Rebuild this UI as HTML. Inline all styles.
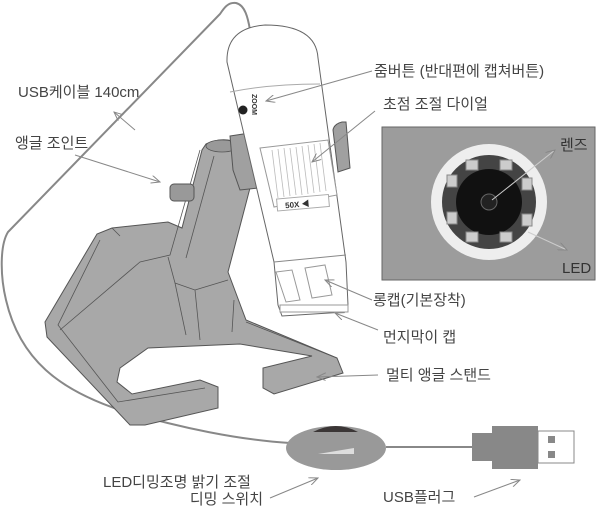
<!DOCTYPE html>
<html><head><meta charset="utf-8"><style>
html,body{margin:0;padding:0;background:#fff;}
svg{display:block}
text{font-family:"Liberation Sans","Noto Sans CJK KR",sans-serif;font-size:15px;fill:#444;}
</style></head><body>
<svg width="602" height="506" viewBox="0 0 602 506" xmlns="http://www.w3.org/2000/svg">
<defs>
<marker id="a" markerWidth="10" markerHeight="8" refX="9" refY="4" orient="auto" markerUnits="userSpaceOnUse">
<path d="M0,0 L9,4 L0,8" fill="none" stroke="#888" stroke-width="1"/></marker>
</defs>
<!-- cable -->
<path d="M250,30 C248,18 245,5 236,3 C228,2 224,8 220,14 L8,232 C0,245 0,275 6,300 C20,360 60,390 120,410 C180,428 240,440 290,443" fill="none" stroke="#888" stroke-width="2"/>
<!-- stand -->
<path d="M202,150 L182,228 L168,222 L112,228 L97,234 L45,322 L47,337 L130,425 L145,425 L218,408 L218,387 L200,380 L132,394 L117,382 L120,368 L148,348 L240,344 L312,356 L263,368 L263,388 L274,394 L343,373 L337,358 L246,320 L228,272 L250,188 L240,143 Q222,136 206,144 Z" fill="#a8a8a8" stroke="#555" stroke-width="1"/>
<path d="M100,240 L58,325 L118,402 L205,388 M112,228 L120,236 M168,257 L175,283 L186,335 M175,283 L195,290 L200,340 M195,290 L228,280 M200,150 L170,255 L140,262 L60,330 M214,156 L186,258 M234,300 L232,332 M246,322 L337,358" fill="none" stroke="#555" stroke-width="0.8"/>
<ellipse cx="222" cy="146" rx="16" ry="6" fill="#999" stroke="#555" stroke-width="0.8"/>
<!-- knob -->
<rect x="170" y="184" width="24" height="17" rx="4" fill="#999" stroke="#555"/>
<!-- clamp left -->
<path d="M230,136 L250,133 L252,148 L258,150 L258,188 L240,190 L233,170 Z" fill="#a0a0a0" stroke="#555"/>
<!-- microscope body -->
<path d="M227,62 Q226,28 265,25 Q316,25 318,58 L346,262 L348,305 L345,312 L282,316 L278,305 L274,262 Z" fill="#fff" stroke="#666" stroke-width="1"/>
<path d="M230,92 Q270,84 320,84" fill="none" stroke="#aaa"/>
<path d="M260,148 L328,140 L337,195 L274,207 Z" fill="#fff" stroke="#999"/>
<g stroke="#bbb" stroke-width="0.8">
<line x1="272" y1="150" x2="278" y2="198"/><line x1="278" y1="149" x2="284" y2="197"/><line x1="284" y1="148" x2="290" y2="196"/><line x1="290" y1="148" x2="296" y2="195"/><line x1="296" y1="147" x2="302" y2="195"/><line x1="302" y1="146" x2="308" y2="194"/><line x1="308" y1="145" x2="314" y2="193"/><line x1="314" y1="144" x2="320" y2="192"/><line x1="320" y1="143" x2="326" y2="191"/></g>
<rect x="277" y="197" width="52" height="12" fill="#fff" stroke="#aaa" transform="rotate(-5 300 203)"/>
<text x="285" y="207" style="font-size:8px;font-weight:bold;fill:#333" transform="rotate(-5 300 203)">50X ◀</text>
<circle cx="243" cy="110" r="4.5" fill="#222"/>
<text x="252" y="94" style="font-size:7px;font-weight:bold;fill:#333" transform="rotate(90 252 94)">ZOOM</text>
<path d="M274,262 L346,255" stroke="#888" fill="none"/>
<path d="M276,272 L292,270 L300,300 L286,302 Z M305,268 L325,265 L332,295 L312,298 Z" fill="#fff" stroke="#999"/>
<rect x="280" y="305" width="68" height="7" fill="#fff" stroke="#999"/>
<!-- clamp right -->
<path d="M333,130 Q334,124 342,122 L346,122 L350,168 L338,172 Z" fill="#a0a0a0" stroke="#555"/>
<!-- dimming switch -->
<ellipse cx="336" cy="448" rx="50" ry="22" fill="#999"/>
<path d="M313,432 Q336,420 358,432 Z" fill="#3b3636"/>
<path d="M318,454 L354,448 L354,454 Z" fill="#ddd"/>
<line x1="386" y1="447" x2="475" y2="447" stroke="#888" stroke-width="2"/>
<!-- usb plug -->
<rect x="472" y="433" width="20" height="28" fill="#888"/>
<rect x="492" y="426" width="46" height="43" fill="#888"/>
<rect x="538" y="431" width="36" height="32" fill="#fff" stroke="#888"/>
<rect x="548" y="436" width="7" height="7" fill="#888"/><rect x="548" y="451" width="7" height="7" fill="#888"/>
<!-- inset -->
<rect x="382" y="127" width="213" height="153" fill="#9c9c9c" stroke="#666"/>
<circle cx="489" cy="202" r="58" fill="#eee"/>
<circle cx="489" cy="202" r="47" fill="#444"/>
<circle cx="489" cy="202" r="33" fill="#111"/>
<circle cx="489" cy="202" r="8" fill="#222" stroke="#666"/>
<g fill="#ccc" stroke="#888">
<rect x="466" y="160" width="12" height="10"/><rect x="500" y="160" width="12" height="10"/>
<rect x="447" y="175" width="10" height="12"/><rect x="522" y="178" width="10" height="12"/>
<rect x="447" y="212" width="10" height="12"/><rect x="522" y="214" width="10" height="12"/>
<rect x="466" y="232" width="12" height="10"/><rect x="500" y="232" width="12" height="10"/>
</g>
<line x1="492" y1="200" x2="555" y2="150" stroke="#ccc" marker-end="url(#a)"/>
<line x1="528" y1="232" x2="567" y2="250" stroke="#ccc" marker-end="url(#a)"/>
<text x="560" y="150" style="fill:#333">렌즈</text>
<text x="562" y="273" style="fill:#333">LED</text>
<!-- arrows -->
<g stroke="#888" stroke-width="1" fill="none">
<line x1="372" y1="71" x2="266" y2="101" marker-end="url(#a)"/>
<line x1="375" y1="111" x2="312" y2="162" marker-end="url(#a)"/>
<line x1="135" y1="130" x2="114" y2="112" marker-end="url(#a)"/>
<line x1="75" y1="155" x2="160" y2="182" marker-end="url(#a)"/>
<line x1="372" y1="300" x2="325" y2="280" marker-end="url(#a)"/>
<line x1="378" y1="330" x2="335" y2="313" marker-end="url(#a)"/>
<line x1="378" y1="375" x2="317" y2="377" marker-end="url(#a)"/>
<line x1="270" y1="498" x2="318" y2="478" marker-end="url(#a)"/>
<line x1="474" y1="497" x2="520" y2="480" marker-end="url(#a)"/>
</g>
<!-- labels -->
<text x="374" y="76">줌버튼 (반대편에 캡쳐버튼)</text>
<text x="383" y="109">초점 조절 다이얼</text>
<text x="18" y="97">USB케이블 140cm</text>
<text x="15" y="148">앵글 조인트</text>
<text x="373" y="305">롱캡(기본장착)</text>
<text x="383" y="342">먼지막이 캡</text>
<text x="386" y="380">멀티 앵글 스탠드</text>
<text x="103" y="487">LED디밍조명 밝기 조절</text>
<text x="263" y="504" text-anchor="end">디밍 스위치</text>
<text x="383" y="502">USB플러그</text>
</svg>
</body></html>
